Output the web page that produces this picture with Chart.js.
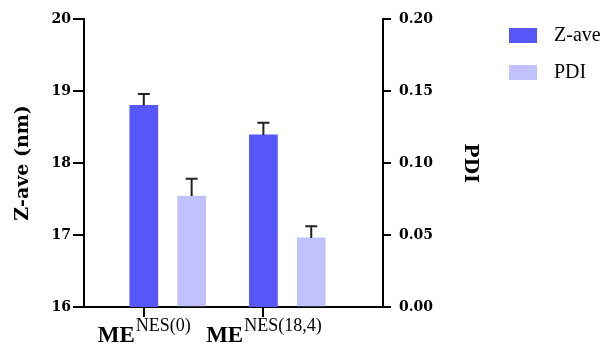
<!DOCTYPE html>
<html>
<head>
<meta charset="utf-8">
<script src="https://cdn.jsdelivr.net/npm/chart.js@4/dist/chart.umd.min.js"></script>
<style>
  body { margin: 0; background: #fff; }
  canvas { display: block; }
</style>
</head>
<body>
<canvas id="chart" width="610" height="343"></canvas>
<script>
// dati
const groups = ['NES(0)', 'NES(18,4)'];
const zave = [18.8, 18.39];
const zaveErr = [0.16, 0.17];
const pdi = [0.077, 0.048];
const pdiErr = [0.012, 0.008];
const zaveTicks = [16, 17, 18, 19, 20];
const pdiTicks = [0, 0.05, 0.10, 0.15, 0.20];

const pdiOffset = 0.4; // barra PDI spostata a destra del tick

const serifBold = "'DejaVu Serif', serif";

// barre di errore (solo verso l'alto)
const errorBars = {
    id: 'errorBars',
    afterDatasetsDraw(chart) {
        const ctx = chart.ctx;
        chart.data.datasets.forEach((ds, i) => {
            const meta = chart.getDatasetMeta(i);
            const yScale = chart.scales[meta.yAxisID];
            meta.data.forEach((bar, j) => {
                const v = ds.data[j].y;
                const yTop = yScale.getPixelForValue(v + ds.errors[j]);
                ctx.save();
                ctx.strokeStyle = '#222';
                ctx.lineWidth = 2;
                ctx.beginPath();
                ctx.moveTo(bar.x, bar.y);
                ctx.lineTo(bar.x, yTop);
                ctx.moveTo(bar.x - 6, yTop);
                ctx.lineTo(bar.x + 6, yTop);
                ctx.stroke();
                ctx.restore();
            });
        });
    }
};

// etichette asse x con apice
const xLabels = {
    id: 'xLabels',
    afterDraw(chart) {
        const ctx = chart.ctx;
        const xScale = chart.scales.x;
        const mainFont = "bold 23px 'Liberation Serif', serif";
        const supFont = "18px 'Liberation Serif', serif";
        ctx.save();
        ctx.fillStyle = '#000';
        ctx.textBaseline = 'alphabetic';
        groups.forEach((g, i) => {
            const cx = xScale.getPixelForValue(i);
            ctx.font = mainFont;
            const wMain = ctx.measureText('ME').width;
            ctx.font = supFont;
            const wSup = ctx.measureText(g).width;
            const x0 = cx - (wMain + wSup) / 2;
            ctx.font = mainFont;
            ctx.fillText('ME', x0, 342);
            ctx.font = supFont;
            ctx.fillText(g, x0 + wMain + 1, 331);
        });
        ctx.restore();
    }
};

// legenda a destra
const sideLegend = {
    id: 'sideLegend',
    afterDraw(chart) {
        const ctx = chart.ctx;
        ctx.save();
        chart.data.datasets.forEach((ds, i) => {
            const y = 28 + i * 37;
            ctx.fillStyle = ds.backgroundColor;
            ctx.fillRect(509, y, 28, 15);
            ctx.fillStyle = '#000';
            ctx.font = "20px 'Liberation Serif', serif";
            ctx.textBaseline = 'middle';
            ctx.fillText(ds.label, 554, y + 8);
        });
        ctx.restore();
    }
};

const ctx = document.getElementById('chart');
new Chart(ctx, {
    type: 'bar',
    data: {
        datasets: [
            {
                label: 'Z-ave',
                data: zave.map((v, i) => ({ x: i, y: v })),
                errors: zaveErr,
                backgroundColor: '#5656F9',
                yAxisID: 'y',
                barThickness: 28,
                grouped: false
            },
            {
                label: 'PDI',
                data: pdi.map((v, i) => ({ x: i + pdiOffset, y: v })),
                errors: pdiErr,
                backgroundColor: '#C1C1FD',
                yAxisID: 'y2',
                barThickness: 28,
                grouped: false
            }
        ]
    },
    options: {
        responsive: false,
        animation: false,
        layout: { padding: { top: 19, right: 0, left: 0, bottom: 0 } },
        plugins: {
            legend: { display: false },
            tooltip: { enabled: false }
        },
        scales: {
            x: {
                type: 'linear',
                min: -0.5,
                max: 2,
                offset: false,
                afterBuildTicks: s => { s.ticks = groups.map((g, i) => ({ value: i })); },
                afterFit: s => { s.height = 36; },
                border: { color: '#000', width: 2 },
                grid: { offset: false, drawOnChartArea: false, color: '#000', lineWidth: 2, tickLength: 10 },
                ticks: { callback: () => '' }
            },
            y: {
                position: 'left',
                min: 16,
                max: 20,
                afterBuildTicks: s => { s.ticks = zaveTicks.map(v => ({ value: v })); },
                afterFit: s => { s.width = 84; },
                border: { color: '#000', width: 2 },
                grid: { drawOnChartArea: false, color: '#000', lineWidth: 2, tickLength: 11 },
                ticks: {
                    color: '#000',
                    padding: 2,
                    font: { family: serifBold, weight: 'bold', size: 14 }
                },
                title: {
                    display: true,
                    text: 'Z-ave (nm)',
                    color: '#000',
                    padding: { top: 12 },
                    font: { family: serifBold, weight: 'bold', size: 19 }
                }
            },
            y2: {
                position: 'right',
                min: 0,
                max: 0.2,
                afterBuildTicks: s => { s.ticks = pdiTicks.map(v => ({ value: v })); },
                afterFit: s => { s.width = 227; },
                border: { color: '#000', width: 2 },
                grid: { drawOnChartArea: false, color: '#000', lineWidth: 2, tickLength: 8 },
                ticks: {
                    color: '#000',
                    padding: 8,
                    callback: v => v.toFixed(2),
                    font: { family: serifBold, weight: 'bold', size: 14 }
                },
                title: {
                    display: true,
                    text: 'PDI',
                    color: '#000',
                    padding: { top: 129 },
                    font: { family: serifBold, weight: 'bold', size: 19 }
                }
            }
        }
    },
    plugins: [errorBars, xLabels, sideLegend]
});
</script>
</body>
</html>
